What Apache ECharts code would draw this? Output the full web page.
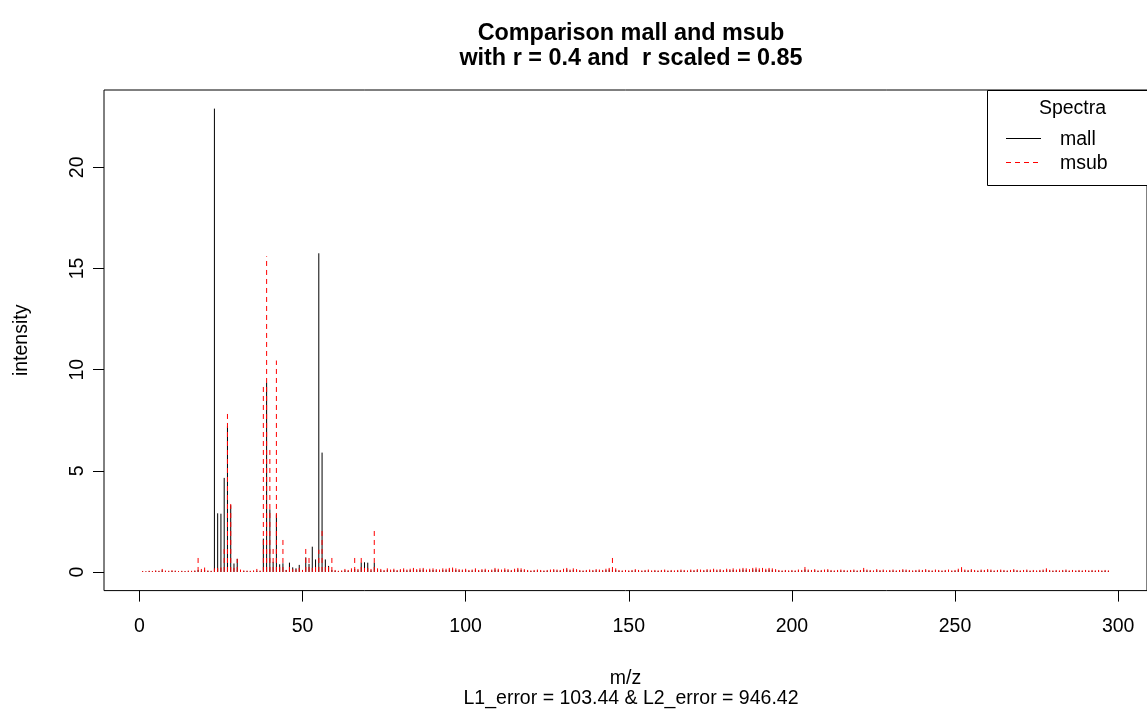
<!DOCTYPE html>
<html>
<head>
<meta charset="utf-8">
<script src="https://cdn.jsdelivr.net/npm/echarts@6/dist/echarts.min.js"></script>
<style>
html,body{margin:0;padding:0;background:#fff;}
#chart{width:1147px;height:709px;}
</style>
</head>
<body>
<div id="chart"></div>
<script>
// m/z positions 1..297
const mzStart = 1;
const mzEnd = 297;

// mall intensities (black, solid)
const mall = [
0.03,0.02,0.04,0.03,0.05,0.04,0.08,0.04,0.03,0.05,
0.04,0.03,0.04,0.03,0.04,0.03,0.05,0.10,0.06,0.10,
0.05,0.04,22.90,2.90,2.88,4.65,7.20,3.30,0.42,0.65,
0.06,0.05,0.04,0.03,0.05,0.06,0.04,1.65,9.35,3.10,
0.50,2.85,0.38,0.43,0.10,0.46,0.23,0.18,0.35,0.10,
0.72,0.40,1.25,0.62,15.75,5.90,0.62,0.30,0.10,0.06,
0.04,0.05,0.08,0.06,0.10,0.15,0.08,0.46,0.48,0.46,
0.08,0.45,0.10,0.08,0.06,0.10,0.07,0.09,0.06,0.08,
0.10,0.07,0.09,0.12,0.08,0.10,0.12,0.07,0.09,0.10,
0.08,0.07,0.10,0.09,0.12,0.13,0.10,0.08,0.07,0.09,
0.06,0.07,0.10,0.06,0.08,0.09,0.06,0.07,0.12,0.09,
0.07,0.10,0.08,0.06,0.09,0.12,0.10,0.08,0.06,0.05,
0.06,0.07,0.06,0.05,0.06,0.07,0.08,0.07,0.06,0.09,
0.12,0.07,0.10,0.08,0.06,0.05,0.06,0.07,0.06,0.08,
0.07,0.06,0.09,0.12,0.10,0.10,0.06,0.05,0.06,0.05,
0.06,0.08,0.06,0.05,0.06,0.07,0.05,0.06,0.05,0.06,
0.07,0.05,0.06,0.05,0.06,0.07,0.06,0.05,0.07,0.06,
0.08,0.07,0.06,0.08,0.07,0.09,0.07,0.08,0.06,0.09,
0.08,0.10,0.07,0.09,0.12,0.10,0.08,0.12,0.13,0.10,
0.12,0.09,0.12,0.10,0.08,0.06,0.05,0.06,0.05,0.06,
0.05,0.07,0.06,0.12,0.07,0.06,0.08,0.05,0.06,0.07,
0.08,0.06,0.05,0.06,0.07,0.06,0.05,0.06,0.07,0.05,
0.06,0.10,0.07,0.06,0.05,0.08,0.06,0.07,0.05,0.06,
0.07,0.05,0.06,0.08,0.07,0.06,0.05,0.06,0.07,0.06,
0.08,0.06,0.05,0.07,0.06,0.05,0.06,0.07,0.05,0.06,
0.09,0.12,0.07,0.06,0.08,0.06,0.05,0.07,0.06,0.08,
0.07,0.05,0.06,0.07,0.06,0.05,0.06,0.08,0.06,0.05,
0.06,0.07,0.05,0.06,0.05,0.06,0.07,0.10,0.06,0.05,
0.06,0.05,0.06,0.07,0.05,0.06,0.05,0.06,0.05,0.06,
0.05,0.06,0.05,0.06,0.05,0.06,0.05
];

// msub intensities (red, dashed)
const msub = [
0.05,0.04,0.06,0.05,0.08,0.06,0.15,0.07,0.06,0.09,
0.07,0.05,0.06,0.05,0.07,0.06,0.08,0.70,0.15,0.22,
0.08,0.06,0.18,0.20,0.22,1.20,7.95,3.50,0.20,0.65,
0.12,0.08,0.07,0.06,0.08,0.15,0.07,9.15,15.60,6.05,
1.20,10.45,0.30,1.65,0.10,0.45,0.15,0.12,0.20,0.10,
1.20,0.75,0.20,0.30,1.10,2.20,0.30,0.30,0.72,0.10,
0.06,0.08,0.15,0.10,0.18,0.72,0.15,0.72,0.20,0.20,
0.15,2.20,0.18,0.15,0.10,0.18,0.12,0.16,0.10,0.14,
0.18,0.12,0.16,0.20,0.14,0.18,0.20,0.12,0.16,0.18,
0.14,0.12,0.18,0.16,0.20,0.22,0.18,0.14,0.12,0.16,
0.10,0.12,0.18,0.10,0.14,0.16,0.10,0.12,0.20,0.16,
0.12,0.18,0.14,0.10,0.16,0.20,0.18,0.14,0.10,0.08,
0.10,0.12,0.10,0.08,0.10,0.12,0.14,0.12,0.10,0.16,
0.20,0.12,0.18,0.14,0.10,0.08,0.10,0.12,0.10,0.14,
0.12,0.10,0.16,0.20,0.72,0.18,0.10,0.08,0.10,0.08,
0.10,0.14,0.10,0.08,0.10,0.12,0.08,0.10,0.08,0.10,
0.12,0.08,0.10,0.08,0.10,0.12,0.10,0.08,0.12,0.10,
0.14,0.12,0.10,0.14,0.12,0.16,0.12,0.14,0.10,0.16,
0.14,0.18,0.12,0.16,0.20,0.18,0.14,0.20,0.22,0.18,
0.20,0.16,0.20,0.18,0.14,0.10,0.08,0.10,0.08,0.10,
0.08,0.12,0.10,0.25,0.12,0.10,0.14,0.08,0.10,0.12,
0.14,0.10,0.08,0.10,0.12,0.10,0.08,0.10,0.12,0.08,
0.10,0.20,0.12,0.10,0.08,0.14,0.10,0.12,0.08,0.10,
0.12,0.08,0.10,0.14,0.12,0.10,0.08,0.10,0.12,0.10,
0.14,0.10,0.08,0.12,0.10,0.08,0.10,0.12,0.08,0.10,
0.16,0.24,0.12,0.10,0.14,0.10,0.08,0.12,0.10,0.14,
0.12,0.08,0.10,0.12,0.10,0.08,0.10,0.14,0.10,0.08,
0.10,0.12,0.08,0.10,0.08,0.10,0.12,0.18,0.10,0.08,
0.10,0.08,0.10,0.12,0.08,0.10,0.08,0.10,0.08,0.10,
0.08,0.10,0.08,0.10,0.08,0.10,0.08
];

const xTicks = [0, 50, 100, 150, 200, 250, 300];
const yTicks = [0, 5, 10, 15, 20];
const titleLines = ['Comparison mall and msub', 'with r = 0.4 and  r scaled = 0.85'];
const subTitle = 'L1_error = 103.44 & L2_error = 946.42';
const seriesNames = ['mall', 'msub'];
const legendTitle = 'Spectra';

const toPairs = arr => arr.map((v, i) => [mzStart + i, v]);

const chart = echarts.init(document.getElementById('chart'), null, {renderer: 'canvas'});
const FONT = '"Liberation Sans", Arial, Helvetica, sans-serif';
const FS = 19.5;
const FS_MAIN = 23.4;

function hRender(color, dash) {
  return function (params, api) {
    const x = api.value(0), y = api.value(1);
    const p0 = api.coord([x, 0]);
    const p1 = api.coord([x, y]);
    return {
      type: 'line',
      shape: {x1: p0[0], y1: p0[1], x2: p1[0], y2: p1[1]},
      style: {stroke: color, lineWidth: 1, lineDash: dash}
    };
  };
}

const option = {
  backgroundColor: '#fff',
  animation: false,
  textStyle: {fontFamily: FONT},
  grid: {left: 104, top: 90, width: 1054, height: 500.6, show: true, borderColor: '#000', borderWidth: 1, backgroundColor: 'transparent', containLabel: false},
  xAxis: {
    type: 'value', min: -10.84, max: 308.84,
    name: 'm/z', nameLocation: 'middle', nameGap: 78,
    nameTextStyle: {fontSize: FS, color: '#000', fontFamily: FONT},
    axisLine: {show: false, onZero: false},
    splitLine: {show: false},
    axisTick: {show: true, inside: false, length: 11, lineStyle: {color: '#000'}, customValues: xTicks},
    axisLabel: {show: true, margin: 26, fontSize: FS, color: '#000', fontFamily: FONT, customValues: xTicks}
  },
  yAxis: {
    type: 'value', min: -0.92, max: 23.82,
    name: 'intensity', nameLocation: 'middle', nameGap: 72,
    nameTextStyle: {fontSize: FS, color: '#000', fontFamily: FONT},
    axisLine: {show: false, onZero: false},
    splitLine: {show: false},
    axisTick: {show: true, inside: false, length: 11, lineStyle: {color: '#000'}, customValues: yTicks},
    axisLabel: {show: true, rotate: 90, margin: 16, fontSize: FS, color: '#000', fontFamily: FONT, customValues: yTicks}
  },
  series: [
    {type: 'custom', name: seriesNames[0], data: toPairs(mall), renderItem: hRender('#000', null), silent: true, clip: true},
    {type: 'custom', name: seriesNames[1], data: toPairs(msub), renderItem: hRender('#ff0000', [5, 4]), silent: true, clip: true}
  ],
  graphic: [
    {type: 'text', x: 631, y: 33.5, style: {text: titleLines[0], font: 'bold ' + FS_MAIN + 'px ' + FONT, fill: '#000', textAlign: 'center', textVerticalAlign: 'middle'}},
    {type: 'text', x: 631, y: 58.5, style: {text: titleLines[1], font: 'bold ' + FS_MAIN + 'px ' + FONT, fill: '#000', textAlign: 'center', textVerticalAlign: 'middle'}},
    {type: 'text', x: 631, y: 699, style: {text: subTitle, font: FS + 'px ' + FONT, fill: '#000', textAlign: 'center', textVerticalAlign: 'middle'}},
    {type: 'rect', shape: {x: 987.5, y: 90.5, width: 171, height: 95}, style: {fill: '#fff', stroke: '#000', lineWidth: 1}, z: 100},
    {type: 'text', x: 1072.5, y: 109, style: {text: legendTitle, font: FS + 'px ' + FONT, fill: '#000', textAlign: 'center', textVerticalAlign: 'middle'}, z: 101},
    {type: 'line', shape: {x1: 1006, y1: 138.5, x2: 1041, y2: 138.5}, style: {stroke: '#000', lineWidth: 1}, z: 101},
    {type: 'line', shape: {x1: 1006, y1: 162.5, x2: 1041, y2: 162.5}, style: {stroke: '#ff0000', lineWidth: 1, lineDash: [5, 4]}, z: 101},
    {type: 'text', x: 1060, y: 139.5, style: {text: seriesNames[0], font: FS + 'px ' + FONT, fill: '#000', textAlign: 'left', textVerticalAlign: 'middle'}, z: 101},
    {type: 'text', x: 1060, y: 163.5, style: {text: seriesNames[1], font: FS + 'px ' + FONT, fill: '#000', textAlign: 'left', textVerticalAlign: 'middle'}, z: 101}
  ]
};
chart.setOption(option);
</script>
</body>
</html>
